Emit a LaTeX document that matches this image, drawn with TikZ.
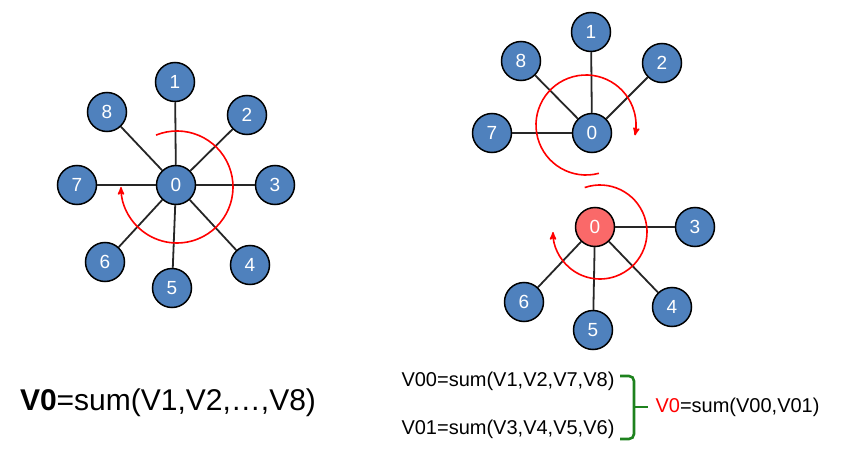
\documentclass[tikz,border=0pt]{standalone}
\usepackage{fontspec}
\setmainfont{Liberation Sans}
\usepackage{tikz}
\usetikzlibrary{arrows, calc}
\definecolor{nodeblue}{RGB}{79,129,189}
\definecolor{nodered}{RGB}{250,105,105}
\definecolor{bracegreen}{RGB}{30,130,30}

\begin{document}
\begin{tikzpicture}[x=1pt, y=-1pt,
        vtx/.style={circle, draw=black, line width=1.5pt, fill=nodeblue, text=white,
            minimum size=39pt, inner sep=0pt, font=\fontsize{19}{19}\selectfont},
        edge/.style={line width=1.8pt, black!85},
        spin/.style={red, line width=1.6pt, -stealth'},
        formula/.style={font=\fontsize{20}{20}\selectfont}]
    \useasboundingbox (0,0) rectangle (865,452);

    % left: vertex 0 and all its neighbours
    \node[vtx] (a0) at (176,185) {0};
    \foreach \n\x\y in {1/175/82, 2/247/115, 3/275/185, 4/250/265, 5/172/288, 6/105/262, 7/77/185, 8/107/112} {
        \node[vtx] (a\n) at (\x,\y) {\n};
        \draw[edge] (a0) -- (a\n);
    }
    \draw[spin] ($(a0)+(1,2)+(-112:56)$) arc[start angle=-112, end angle=180, radius=56];

    % right, top half
    \node[vtx] (b0) at (592,133) {0};
    \foreach \n\x\y in {1/591/32, 2/662/63, 7/492/133, 8/521/61} {
        \node[vtx] (b\n) at (\x,\y) {\n};
        \draw[edge] (b0) -- (b\n);
    }
    \draw[spin] ($(b0)+(-6,-8)+(75:50)$) arc[start angle=75, end angle=372, radius=50];

    % right, bottom half
    \node[vtx, fill=nodered] (c0) at (595,227) {0};
    \foreach \n\x\y in {3/695/227, 4/672/307, 5/593/330, 6/524/302} {
        \node[vtx] (c\n) at (\x,\y) {\n};
        \draw[edge] (c0) -- (c\n);
    }
    \draw[spin] ($(c0)+(5,5)+(-109:47)$) arc[start angle=-109, end angle=180, radius=47];

    % formulas
    \node[font=\fontsize{30}{30}\selectfont] (sumall) at (168,403) {\textbf{V0}=sum(V1,V2,…,V8)};
    \node[formula, anchor=west] (sumtop) at (398,381) {V00=sum(V1,V2,V7,V8)};
    \node[formula, anchor=west] (sumbot) at (398,429) {V01=sum(V3,V4,V5,V6)};
    \node[formula, anchor=west] (sumall2) at (652,407) {\textcolor{red}{V0}=sum(V00,V01)};
    \coordinate (btop) at (620,376);
    \coordinate (bmid) at (634,407);
    \coordinate (bbot) at (620,439);
    \draw[bracegreen, line width=2.6pt, rounded corners=5pt] (btop) -| (bmid) |- (bbot);
    \draw[bracegreen, line width=2.6pt] (bmid) -- ($(sumall2.west)+(-4,0)$);
\end{tikzpicture}
\end{document}
